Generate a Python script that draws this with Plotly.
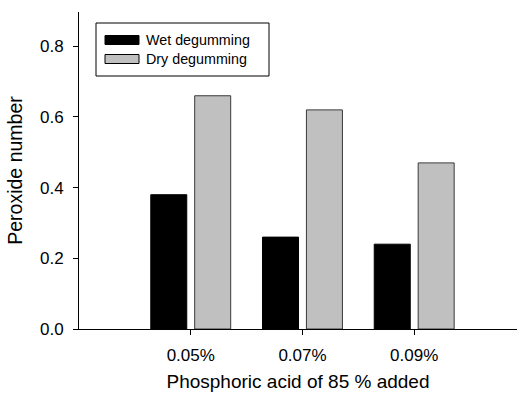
import plotly.graph_objects as go

categories = ["0.05%", "0.07%", "0.09%"]
wet = [0.38, 0.26, 0.24]
dry = [0.66, 0.62, 0.47]
y_ticks = [0.0, 0.2, 0.4, 0.6, 0.8]
y_ticklabels = ["0.0", "0.2", "0.4", "0.6", "0.8"]

FONT = "Liberation Sans, Arial, sans-serif"

fig = go.Figure()
fig.add_trace(go.Bar(x=categories, y=wet, name="Wet degumming",
                     marker=dict(color="#000000", line=dict(color="#000000", width=1)),
                     showlegend=False))
fig.add_trace(go.Bar(x=categories, y=dry, name="Dry degumming",
                     marker=dict(color="#c0c0c0", line=dict(color="#3a3a3a", width=1)),
                     showlegend=False))

# manual legend (box, swatches, labels)
lx0, lx1, ly0, ly1 = 96, 269, 23, 76
W, H = 517, 394
ml, mr, mt, mb = 79, 0, 12, 65
pw, ph = W - ml - mr, H - mt - mb

def px2paper(x, y):
    return (x - ml) / pw, 1 - (y - mt) / ph

shapes = []
x0, y0 = px2paper(lx0, ly0)
x1, y1 = px2paper(lx1, ly1)
shapes.append(dict(type="rect", xref="paper", yref="paper", x0=x0, y0=y1, x1=x1, y1=y0,
                   line=dict(color="#000000", width=1), fillcolor="rgba(0,0,0,0)"))
legend_items = [("Wet degumming", "#000000", "#000000", 40),
                ("Dry degumming", "#c0c0c0", "#000000", 59)]
annotations = []
for label, fill, edge, yc in legend_items:
    a0, b0 = px2paper(105, yc - 4.5)
    a1, b1 = px2paper(139, yc + 4.5)
    shapes.append(dict(type="rect", xref="paper", yref="paper", x0=a0, y0=b1, x1=a1, y1=b0,
                       line=dict(color=edge, width=1), fillcolor=fill))
    tx, ty = px2paper(144, yc)
    annotations.append(dict(text=label, xref="paper", yref="paper", x=tx, y=ty,
                            xanchor="left", yanchor="middle", showarrow=False,
                            font=dict(family=FONT, size=14.3, color="#000000")))

fig.update_layout(
    width=W, height=H,
    margin=dict(l=ml, r=mr, t=mt, b=mb),
    paper_bgcolor="white", plot_bgcolor="white",
    barmode="group", bargap=0.214, bargroupgap=0.18,
    font=dict(family=FONT, size=17, color="#000000"),
    shapes=shapes, annotations=annotations,
    xaxis=dict(range=[-1, 2.92], showline=True, linecolor="#000000", linewidth=1,
               ticks="outside", ticklen=5, tickcolor="#000000", showgrid=False,
               zeroline=False, tickfont=dict(size=17), ticklabelstandoff=6,
               title=dict(text="Phosphoric acid of 85 % added", font=dict(size=19), standoff=10)),
    yaxis=dict(range=[0, 0.897], showline=True, linecolor="#000000", linewidth=1,
               ticks="outside", ticklen=5, tickcolor="#000000", showgrid=False,
               zeroline=False, tickvals=y_ticks, ticktext=y_ticklabels, tickfont=dict(size=17),
               ticklabelstandoff=6,
               title=dict(text="Peroxide number", font=dict(size=19.5), standoff=12)),
)

fig.write_html("out.html", config={"displayModeBar": False},
               post_script="document.body.style.margin='0';")
